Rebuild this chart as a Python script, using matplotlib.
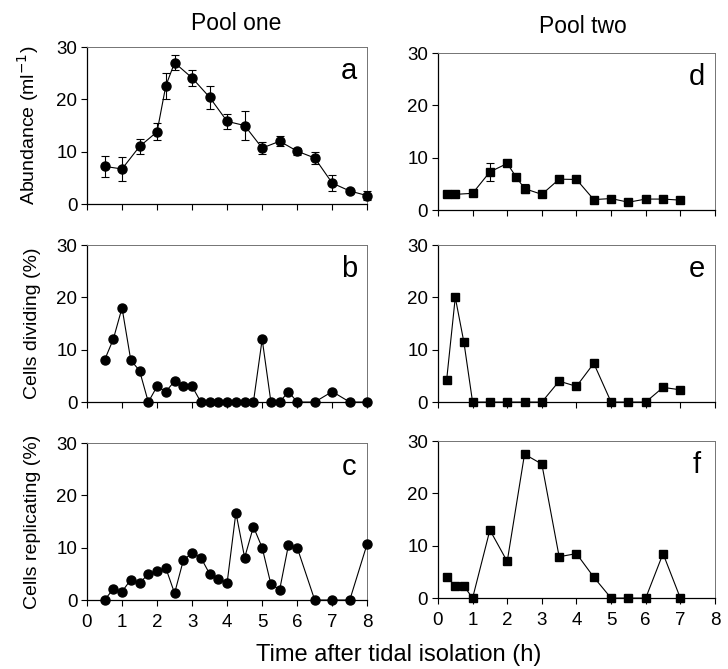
import matplotlib.pyplot as plt
import numpy as np

plt.rcParams['font.family'] = ['Liberation Sans', 'DejaVu Sans']

# pool one, abundance (a)
a_x = [0.5, 1, 1.5, 2, 2.25, 2.5, 3, 3.5, 4, 4.5, 5, 5.5, 6, 6.5, 7, 7.5, 8]
a_y = [7.2, 6.7, 11.0, 13.8, 22.6, 27.0, 24.1, 20.4, 15.8, 15.0, 10.7, 12.0, 10.1, 8.8, 4.0, 2.5, 1.6]
a_err = [2.0, 2.3, 1.5, 1.6, 2.5, 1.4, 1.6, 2.2, 1.5, 2.8, 1.1, 1.0, 0.7, 1.1, 1.5, 0.3, 0.9]

# pool two, abundance (d)
d_x = [0.25, 0.5, 1, 1.5, 2, 2.25, 2.5, 3, 3.5, 4, 4.5, 5, 5.5, 6, 6.5, 7]
d_y = [3.0, 3.0, 3.2, 7.3, 8.9, 6.4, 4.1, 3.0, 5.9, 5.85, 2.0, 2.2, 1.5, 2.1, 2.1, 1.9]
d_err = [0.2, 0.2, 0.3, 1.7, 0.4, 0.4, 0.8, 0.3, 0.3, 0.3, 0.2, 0.2, 0.2, 0.2, 0.2, 0.2]

# pool one, dividing (b)
b_x = [0.5, 0.75, 1, 1.25, 1.5, 1.75, 2, 2.25, 2.5, 2.75, 3, 3.25, 3.5, 3.75, 4,
       4.25, 4.5, 4.75, 5, 5.25, 5.5, 5.75, 6, 6.5, 7, 7.5, 8]
b_y = [8, 12, 18, 8, 6, 0, 3, 2, 4, 3, 3, 0, 0, 0, 0, 0, 0, 0, 12, 0, 0, 2, 0, 0, 2, 0, 0]

# pool two, dividing (e)
e_x = [0.25, 0.5, 0.75, 1, 1.5, 2, 2.5, 3, 3.5, 4, 4.5, 5, 5.5, 6, 6.5, 7]
e_y = [4.2, 20, 11.4, 0, 0, 0, 0, 0, 4.0, 3.0, 7.4, 0, 0, 0, 2.8, 2.35]

# pool one, replicating (c)
c_x = [0.5, 0.75, 1, 1.25, 1.5, 1.75, 2, 2.25, 2.5, 2.75, 3, 3.25, 3.5, 3.75, 4,
       4.25, 4.5, 4.75, 5, 5.25, 5.5, 5.75, 6, 6.5, 7, 7.5, 8]
c_y = [0, 2.1, 1.6, 3.9, 3.2, 5.0, 5.5, 6.1, 1.3, 7.6, 9.0, 8.1, 5.0, 4.1, 3.3,
       16.7, 8.1, 14.0, 10.0, 3.0, 2.0, 10.5, 10.0, 0, 0, 0, 10.8]

# pool two, replicating (f)
f_x = [0.25, 0.5, 0.75, 1, 1.5, 2, 2.5, 3, 3.5, 4, 4.5, 5, 5.5, 6, 6.5, 7]
f_y = [4.1, 2.3, 2.3, 0, 13.0, 7.0, 27.5, 25.6, 7.9, 8.5, 4.0, 0, 0, 0, 8.5, 0]

ylabels = ['Abundance (ml$^{-1}$)', 'Cells dividing (%)', 'Cells replicating (%)']

fig = plt.figure(figsize=(7.28, 6.69), dpi=100)

left_l, left_w = 0.1195, 0.385
right_l, right_w = 0.6016, 0.3805
h = 0.2347
bottoms_left = [0.695, 0.399, 0.1031]
bottoms_right = [0.686, 0.399, 0.106]


def style(ax, letter, bottom_row):
    ax.set_xlim(0, 8)
    ax.set_ylim(0, 30)
    ax.set_xticks(np.arange(0, 9, 1))
    ax.set_yticks([0, 10, 20, 30])
    ax.tick_params(direction='out', length=4, width=0.8, labelsize=13.5, pad=3)
    if not bottom_row:
        ax.set_xticklabels([])
    else:
        ax.tick_params(axis='x', pad=6)
    for s in ['left', 'bottom']:
        ax.spines[s].set_color('black')
        ax.spines[s].set_linewidth(0.9)
    for s in ['top', 'right']:
        ax.spines[s].set_color('0.45')
        ax.spines[s].set_linewidth(0.7)
    ax.text(0.935, 0.85, letter, transform=ax.transAxes, ha='center', va='center',
            fontsize=21)


axes = []
for i in range(3):
    axL = fig.add_axes([left_l, bottoms_left[i], left_w, h])
    axR = fig.add_axes([right_l, bottoms_right[i], right_w, h])
    axes.append((axL, axR))

mk = dict(color='black', lw=0.8, clip_on=False, zorder=3)

ax = axes[0][0]
ax.errorbar(a_x, a_y, yerr=a_err, fmt='-o', ms=6.5, capsize=3, elinewidth=0.8,
            capthick=0.8, **mk)
ax = axes[0][1]
ax.errorbar(d_x, d_y, yerr=d_err, fmt='-s', ms=5.5, capsize=3, elinewidth=0.8,
            capthick=0.8, **mk)
axes[1][0].plot(b_x, b_y, '-o', ms=6.5, **mk)
axes[1][1].plot(e_x, e_y, '-s', ms=5.5, **mk)
axes[2][0].plot(c_x, c_y, '-o', ms=6.5, **mk)
axes[2][1].plot(f_x, f_y, '-s', ms=5.5, **mk)

letters = [('a', 'd'), ('b', 'e'), ('c', 'f')]
for i in range(3):
    style(axes[i][0], letters[i][0], i == 2)
    style(axes[i][1], letters[i][1], i == 2)
    axes[i][0].set_ylabel(ylabels[i], fontsize=14)
    axes[i][0].yaxis.set_label_coords(-0.165, 0.5)

fig.text(0.325, 0.965, 'Pool one', ha='center', va='center', fontsize=16.5)
fig.text(0.80, 0.961, 'Pool two', ha='center', va='center', fontsize=16.5)
fig.text(0.547, 0.021, 'Time after tidal isolation (h)', ha='center', va='center',
         fontsize=17)

fig.savefig('out.png', dpi=100)
